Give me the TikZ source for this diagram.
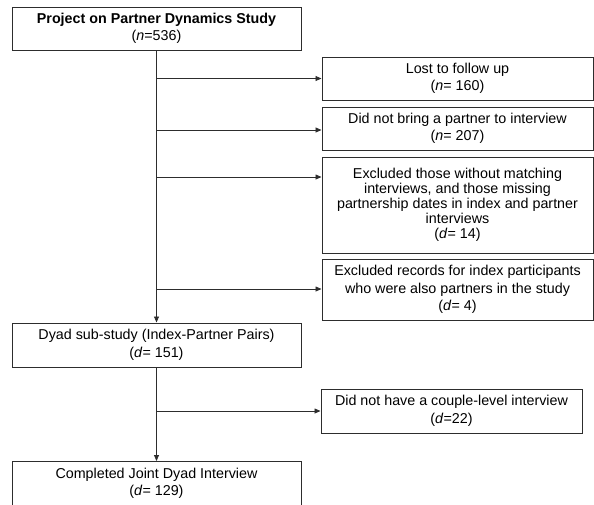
\documentclass[tikz,border=0pt]{standalone}
\usepackage{fontspec}
\setmainfont{Liberation Sans}
\usepackage{xcolor}
\usepackage{tikz}
\usetikzlibrary{arrows.meta, positioning, calc}
\definecolor{flowline}{RGB}{45,45,45}
\tikzset{
    box/.style={rectangle, draw=flowline, line width=1pt, fill=white, align=center,
                inner sep=0pt, minimum width=289pt, minimum height=43pt,
                font=\fontsize{14.3}{17.5}\selectfont},
    sidebox/.style={box, minimum width=271pt},
    arrow/.style={line width=0.8pt, flowline, -{Triangle[length=6pt,width=5pt]}}
}

\begin{document}
\begin{tikzpicture}[x=1pt, y=-1pt]
    \useasboundingbox (0,0) rectangle (594,504);

    % Main column
    \node[box] (project) at (156.5,28.5)
        {\textbf{Project on Partner Dynamics Study}\\(\textit{n}=536)};
    \node[box, minimum height=44pt] (dyad) at (156.5,345)
        {Dyad sub-study (Index-Partner Pairs)\\(\textit{d}= 151)};
    \node[box, minimum height=44pt] (joint) at (156.5,483.5)
        {Completed Joint Dyad Interview\\(\textit{d}= 129)};

    % Exclusions
    \node[sidebox] (lost) at (457.5,78.5)
        {Lost to follow up\\(\textit{n}= 160)};
    \node[sidebox] (nopartner) at (457.5,128.5)
        {Did not bring a partner to interview\\(\textit{n}= 207)};
    \node[sidebox, minimum height=96pt, font=\fontsize{14.3}{15}\selectfont] (nomatch) at (457.5,205)
        {Excluded those without matching\\interviews, and those missing\\partnership dates in index and partner\\interviews\\(\textit{d}= 14)};
    \node[sidebox, minimum height=61pt] (duplicate) at (457.5,289.5)
        {Excluded records for index participants\\who were also partners in the study\\(\textit{d}= 4)};
    \node[sidebox, minimum width=261pt, minimum height=44pt] (nocouple) at (451.5,411)
        {Did not have a couple-level interview\\(\textit{d}=22)};

    % Junctions
    \coordinate (j1) at (project.south |- lost.west);
    \coordinate (j2) at (156.5,130);
    \coordinate (j3) at (156.5,177);
    \coordinate (j4) at (156.5,289);
    \coordinate (j5) at (dyad.south |- nocouple.west);

    % Arrows
    \draw[arrow] (project) -- (dyad);
    \draw[arrow] (dyad) -- (joint);
    \draw[arrow] (j1) -- (lost);
    \draw[arrow] (j2) -- (j2 -| nopartner.west);
    \draw[arrow] (j3) -- (j3 -| nomatch.west);
    \draw[arrow] (j4) -- (j4 -| duplicate.west);
    \draw[arrow] (j5) -- (nocouple);
\end{tikzpicture}
\end{document}
